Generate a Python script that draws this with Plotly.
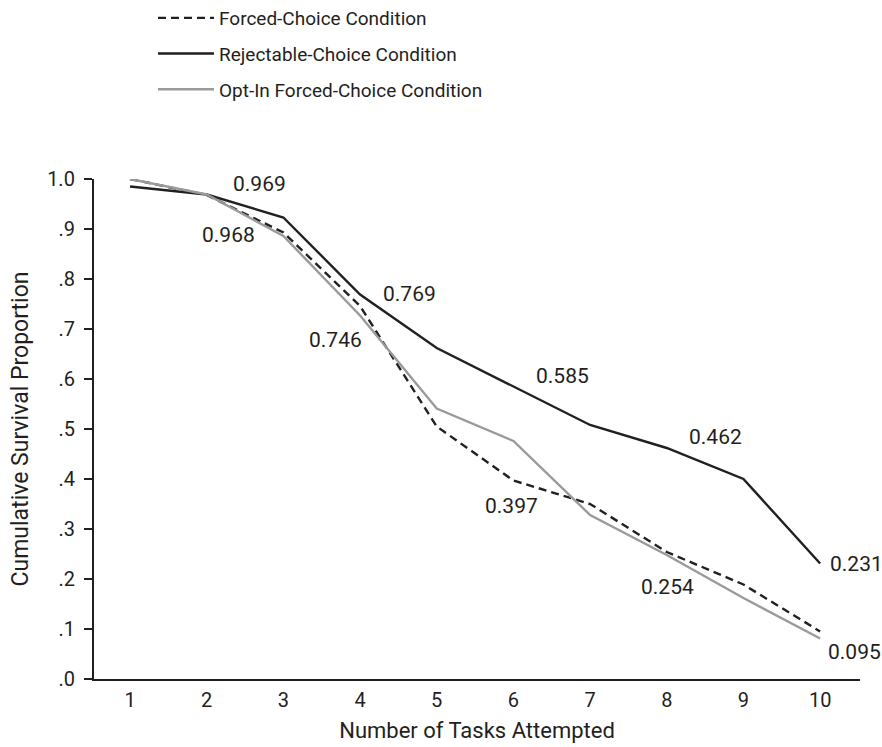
import plotly.graph_objects as go

tasks = [1, 2, 3, 4, 5, 6, 7, 8, 9, 10]
forced = [1.000, 0.968, 0.893, 0.746, 0.505, 0.397, 0.350, 0.254, 0.189, 0.095]
rejectable = [0.985, 0.969, 0.923, 0.769, 0.662, 0.585, 0.508, 0.462, 0.400, 0.231]
optin = [1.000, 0.969, 0.886, 0.727, 0.541, 0.476, 0.328, 0.248, 0.162, 0.081]

series_names = ["Forced-Choice Condition", "Rejectable-Choice Condition",
                "Opt-In Forced-Choice Condition"]
y_tickvals = [0.0, 0.1, 0.2, 0.3, 0.4, 0.5, 0.6, 0.7, 0.8, 0.9, 1.0]
y_ticktext = [".0", ".1", ".2", ".3", ".4", ".5", ".6", ".7", ".8", ".9", "1.0"]

# task numbers whose values are printed next to the curves
labelled_rej = [2, 4, 6, 8, 10]
labelled_forced = [2, 4, 6, 8, 10]

FONT = "Roboto, Liberation Sans, Arial, sans-serif"
INK = "#231f20"

fig = go.Figure()
fig.add_trace(go.Scatter(x=tasks, y=forced, mode="lines", name=series_names[0],
                         line=dict(color=INK, width=2.4, dash="8px,5px"),
                         legendgroup="a"))
fig.add_trace(go.Scatter(x=tasks, y=rejectable, mode="lines", name=series_names[1],
                         line=dict(color=INK, width=2.4), legendgroup="b"))
fig.add_trace(go.Scatter(x=tasks, y=optin, mode="lines", name=series_names[2],
                         line=dict(color="#9a9a9a", width=2.4), legendgroup="c"))

rej_shift = {2: (53, 11), 4: (49, 1), 6: (49, 11), 8: (49, 11), 10: (36, 0)}
for t in labelled_rej:
    v = rejectable[tasks.index(t)]
    dx, dy = rej_shift[t]
    fig.add_annotation(x=t, y=v, text=f"{v:.3f}", showarrow=False,
                       xshift=dx, yshift=dy, font=dict(size=21, color=INK, family=FONT))

forced_shift = {2: (22, -40), 4: (-25, -34), 6: (-2, -25), 8: (1, -35), 10: (34, -20)}
for t in labelled_forced:
    v = forced[tasks.index(t)]
    dx, dy = forced_shift[t]
    fig.add_annotation(x=t, y=v, text=f"{v:.3f}", showarrow=False,
                       xshift=dx, yshift=dy, font=dict(size=21, color=INK, family=FONT))

fig.update_layout(
    width=882, height=747,
    margin=dict(l=94, r=22, t=179, b=68, autoexpand=False),
    paper_bgcolor="white", plot_bgcolor="white",
    font=dict(family=FONT, size=20, color=INK),
    showlegend=True,
    legend=dict(x=0.077, y=1.36, xanchor="left", yanchor="top",
                xref="paper", yref="paper",
                itemwidth=56, tracegroupgap=8,
                font=dict(size=19, family=FONT, color=INK),
                bgcolor="rgba(0,0,0,0)"),
    xaxis=dict(range=[0.53, 10.52], tickvals=tasks, showgrid=False, zeroline=False,
               showline=True, linecolor=INK, linewidth=2.2, ticks="",
               ticklabelstandoff=2,
               tickfont=dict(size=20, family=FONT, color=INK),
               title=dict(text="Number of Tasks Attempted", standoff=12,
                          font=dict(size=22, family=FONT, color=INK))),
    yaxis=dict(range=[0, 1.0], tickvals=y_tickvals, ticktext=y_ticktext,
               showgrid=False, zeroline=False, showline=True, linecolor=INK,
               linewidth=2.2, ticks="outside", ticklen=8, tickwidth=2, tickcolor=INK,
               ticklabelstandoff=5,
               tickfont=dict(size=20, family=FONT, color=INK),
               title=dict(text="Cumulative Survival Proportion", standoff=12,
                          font=dict(size=23, family=FONT, color=INK))),
)

fig.write_html("out.html", config={"displayModeBar": False},
               post_script="document.body.style.margin='0';")
